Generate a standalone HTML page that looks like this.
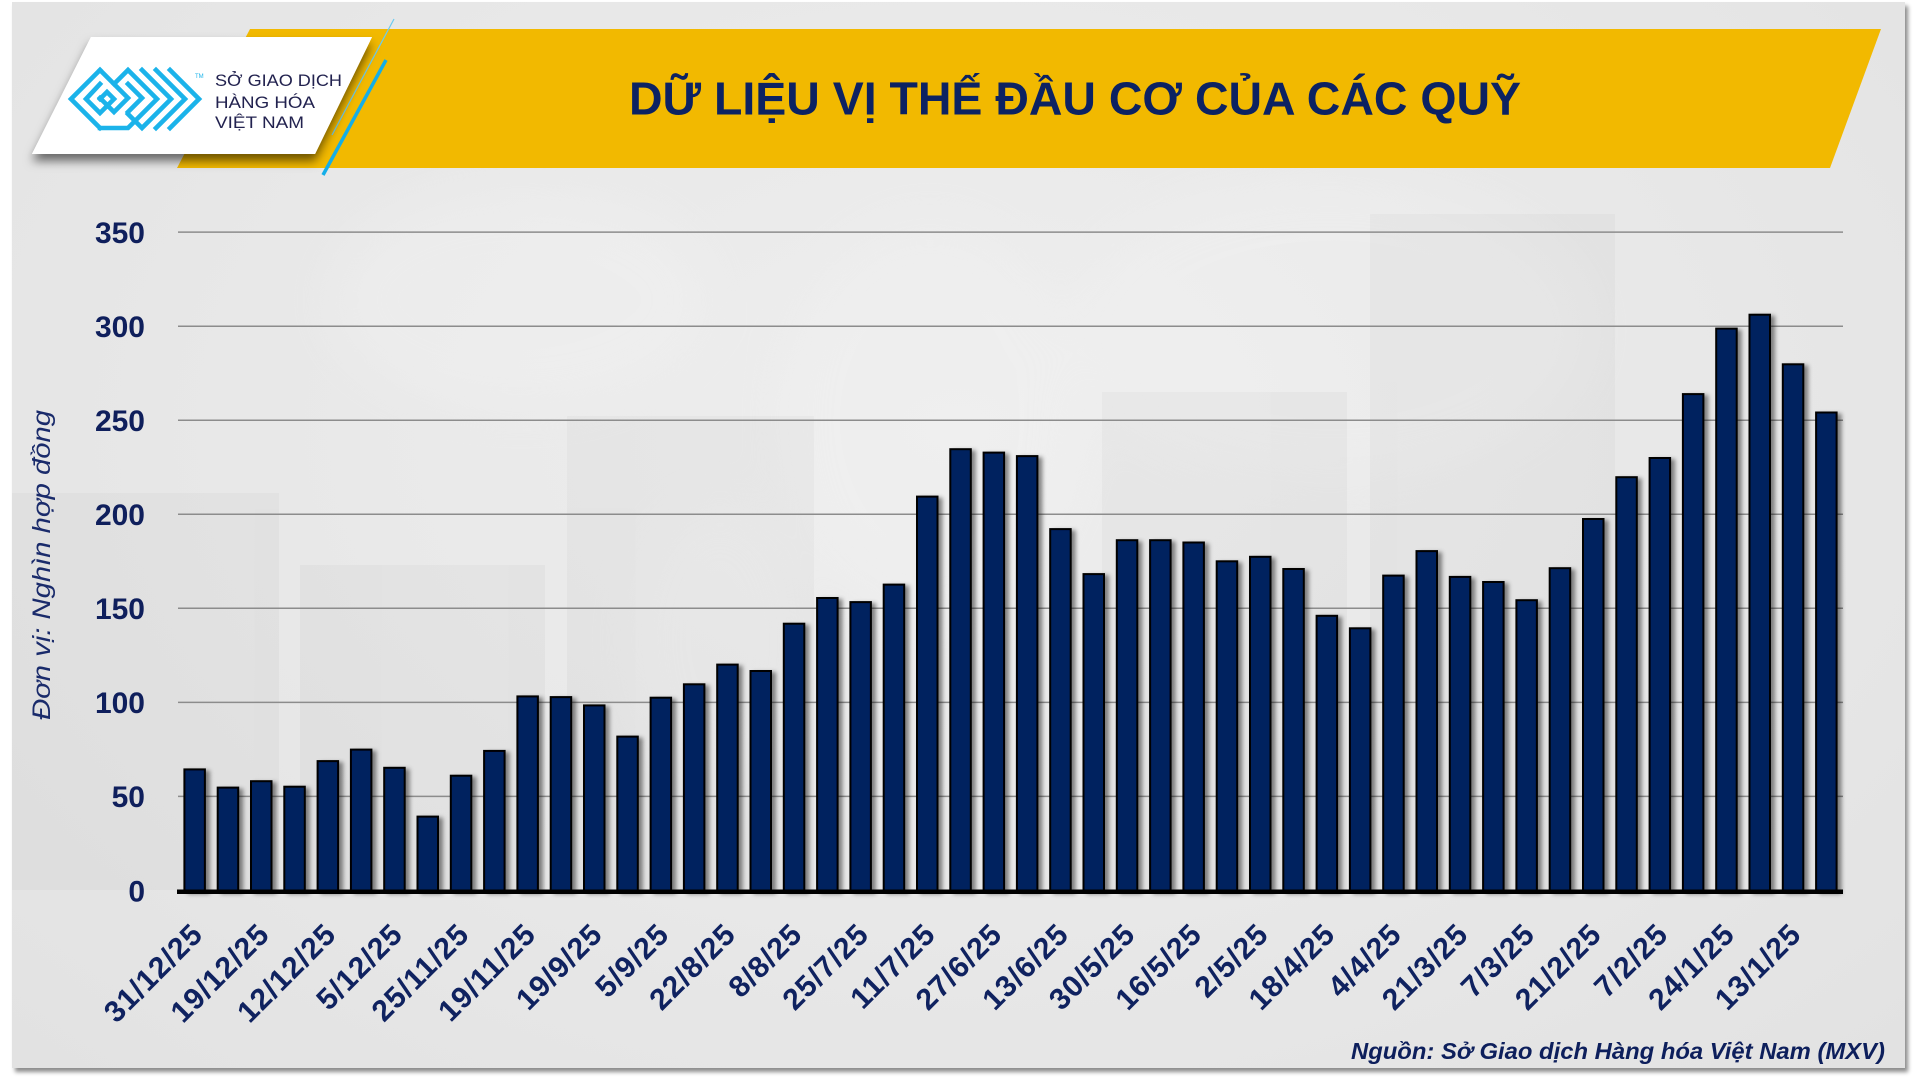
<!DOCTYPE html>
<html>
<head>
<meta charset="utf-8">
<style>
  html,body{margin:0;padding:0;background:#ffffff;}
  body{width:1920px;height:1080px;position:relative;overflow:hidden;font-family:"Liberation Sans",Arial,sans-serif;}
  .panel{position:absolute;left:12px;top:2px;width:1893px;height:1066px;
    background:radial-gradient(ellipse at 50% 40%, #eeeeee 0%, #e9e9e9 45%, #e2e2e2 100%);
    box-shadow:3px 4px 4px rgba(0,0,0,0.45);}
  svg{position:absolute;left:0;top:0;}
</style>
</head>
<body>
<div class="panel"></div>
<svg width="1920" height="1080" viewBox="0 0 1920 1080" xmlns="http://www.w3.org/2000/svg">
  <defs>
    <filter id="bsh" x="-30%" y="-10%" width="160%" height="120%">
      <feDropShadow dx="4" dy="2" stdDeviation="2" flood-color="#000" flood-opacity="0.45"/>
    </filter>
    <filter id="lsh" x="-10%" y="-20%" width="120%" height="160%">
      <feDropShadow dx="0" dy="7" stdDeviation="5" flood-color="#000" flood-opacity="0.55"/>
    </filter>
    <filter id="soft" x="-20%" y="-20%" width="140%" height="140%">
      <feGaussianBlur stdDeviation="25"/>
    </filter>
  </defs>

  <!-- faint background decoration -->
  <g opacity="0.3" filter="url(#soft)">
    <ellipse cx="520" cy="300" rx="190" ry="110" fill="#f4f4f4"/>
    <ellipse cx="930" cy="420" rx="150" ry="200" fill="#f3f3f3"/>
    <ellipse cx="1330" cy="330" rx="260" ry="150" fill="#f3f3f3"/>
    <ellipse cx="720" cy="640" rx="90" ry="140" fill="#f2f2f2"/>
  </g>
  <g fill="#000" opacity="0.025">
    <rect x="12" y="493" width="267" height="397"/>
    <rect x="300" y="565" width="245" height="325"/>
    <rect x="567" y="416" width="247" height="474"/>
    <rect x="1102" y="392" width="245" height="498"/>
    <rect x="1370" y="214" width="245" height="676"/>
  </g>

  <!-- yellow title banner -->
  <polygon points="250,29 1881,29 1830,168 177,168" fill="#F2B900"/>
  <text x="629" y="114.5" font-family="Liberation Sans, sans-serif" font-weight="bold" font-size="46" fill="#0C2262" textLength="892" lengthAdjust="spacingAndGlyphs">DỮ LIỆU VỊ THẾ ĐẦU CƠ CỦA CÁC QUỸ</text>

  <!-- blue accent lines -->
  <line x1="394" y1="19" x2="332" y2="135" stroke="#6CCBF0" stroke-width="1.2"/>
  <line x1="386" y1="60" x2="323" y2="175" stroke="#14AEE8" stroke-width="3.5"/>

  <!-- white logo parallelogram -->
  <polygon points="91,37 372,37 315,154 32,154" fill="#ffffff" filter="url(#lsh)"/>
  <polygon points="91,37 372,37 315,154 32,154" fill="#ffffff"/>

  <!-- logo icon -->
  <g fill="none" stroke="#1BB3EA" stroke-width="4.6" stroke-linejoin="miter" stroke-linecap="square">
    <polyline points="100,70 71,99 100,128"/>
    <polyline points="100,84 86,99 100,113 114,99 107,92 100,99"/>
    <polyline points="100,70 128,98 114,112 100,98"/>
    <polyline points="114,84 128,70 157,99 128,128 100,128"/>
    <polyline points="142,70 171,99 142,128 128,114"/>
    <polyline points="128,84 142,98 128,112"/>
    <polyline points="156,70 185,99 156,128"/>
    <polyline points="170,70 199,99 170,128"/>
  </g>
  <text x="195" y="78" font-family="Liberation Sans, sans-serif" font-size="6" fill="#1BB3EA">TM</text>

  <!-- logo text -->
  <g font-family="Liberation Sans, sans-serif" font-size="17" fill="#22224F">
    <text x="215" y="86" textLength="127" lengthAdjust="spacingAndGlyphs">SỞ GIAO DỊCH</text>
    <text x="215" y="108" textLength="100" lengthAdjust="spacingAndGlyphs">HÀNG HÓA</text>
    <text x="215" y="128" textLength="89" lengthAdjust="spacingAndGlyphs">VIỆT NAM</text>
  </g>

  <!-- gridlines -->
  <g stroke="#8C8C8C" stroke-width="1.5">
    <line x1="178" y1="232.1" x2="1843" y2="232.1"/>
    <line x1="178" y1="326.2" x2="1843" y2="326.2"/>
    <line x1="178" y1="420.2" x2="1843" y2="420.2"/>
    <line x1="178" y1="514.3" x2="1843" y2="514.3"/>
    <line x1="178" y1="608.3" x2="1843" y2="608.3"/>
    <line x1="178" y1="702.4" x2="1843" y2="702.4"/>
    <line x1="178" y1="796.4" x2="1843" y2="796.4"/>
  </g>

  <!-- y-axis labels -->
  <g font-family="Liberation Sans, sans-serif" font-weight="bold" font-size="30" fill="#0F1F5C" text-anchor="end">
    <text x="145" y="242.9">350</text>
    <text x="145" y="337.0">300</text>
    <text x="145" y="431.0">250</text>
    <text x="145" y="525.1">200</text>
    <text x="145" y="619.1">150</text>
    <text x="145" y="713.2">100</text>
    <text x="145" y="807.2">50</text>
    <text x="145" y="901.3">0</text>
  </g>

  <!-- y-axis title -->
  <text transform="translate(50,565) rotate(-90)" text-anchor="middle" font-family="Liberation Sans, sans-serif" font-style="italic" font-size="25" fill="#1A2B6B" textLength="310" lengthAdjust="spacingAndGlyphs">Đơn vị: Nghìn hợp đồng</text>

  <!-- bars -->
  <g fill="#00205F" stroke="#000" stroke-width="2" filter="url(#bsh)">
    <rect x="184.4" y="769.4" width="20.5" height="121.6"/>
    <rect x="217.7" y="787.6" width="20.5" height="103.4"/>
    <rect x="251.0" y="781.2" width="20.5" height="109.8"/>
    <rect x="284.3" y="786.7" width="20.5" height="104.3"/>
    <rect x="317.6" y="761.1" width="20.5" height="129.9"/>
    <rect x="350.9" y="749.6" width="20.5" height="141.4"/>
    <rect x="384.2" y="767.8" width="20.5" height="123.2"/>
    <rect x="417.5" y="816.6" width="20.5" height="74.4"/>
    <rect x="450.8" y="775.7" width="20.5" height="115.3"/>
    <rect x="484.1" y="750.9" width="20.5" height="140.1"/>
    <rect x="517.4" y="696.4" width="20.5" height="194.6"/>
    <rect x="550.7" y="697.1" width="20.5" height="193.9"/>
    <rect x="584.0" y="705.4" width="20.5" height="185.6"/>
    <rect x="617.3" y="736.6" width="20.5" height="154.4"/>
    <rect x="650.6" y="697.7" width="20.5" height="193.3"/>
    <rect x="683.9" y="684.3" width="20.5" height="206.7"/>
    <rect x="717.2" y="664.6" width="20.5" height="226.4"/>
    <rect x="750.5" y="671.0" width="20.5" height="220.0"/>
    <rect x="783.8" y="623.7" width="20.5" height="267.3"/>
    <rect x="817.1" y="598.0" width="20.5" height="293.0"/>
    <rect x="850.4" y="602.1" width="20.5" height="288.9"/>
    <rect x="883.7" y="584.6" width="20.5" height="306.4"/>
    <rect x="917.0" y="496.6" width="20.5" height="394.4"/>
    <rect x="950.3" y="449.2" width="20.5" height="441.8"/>
    <rect x="983.6" y="452.6" width="20.5" height="438.4"/>
    <rect x="1016.9" y="456.1" width="20.5" height="434.9"/>
    <rect x="1050.2" y="529.1" width="20.5" height="361.9"/>
    <rect x="1083.5" y="574.1" width="20.5" height="316.9"/>
    <rect x="1116.8" y="540.2" width="20.5" height="350.8"/>
    <rect x="1150.1" y="540.2" width="20.5" height="350.8"/>
    <rect x="1183.4" y="542.5" width="20.5" height="348.5"/>
    <rect x="1216.7" y="561.3" width="20.5" height="329.7"/>
    <rect x="1250.0" y="556.8" width="20.5" height="334.2"/>
    <rect x="1283.3" y="569.0" width="20.5" height="322.0"/>
    <rect x="1316.6" y="615.8" width="20.5" height="275.2"/>
    <rect x="1349.9" y="628.3" width="20.5" height="262.7"/>
    <rect x="1383.2" y="575.6" width="20.5" height="315.4"/>
    <rect x="1416.5" y="551.1" width="20.5" height="339.9"/>
    <rect x="1449.8" y="576.9" width="20.5" height="314.1"/>
    <rect x="1483.1" y="582.0" width="20.5" height="309.0"/>
    <rect x="1516.4" y="600.2" width="20.5" height="290.8"/>
    <rect x="1549.7" y="568.2" width="20.5" height="322.8"/>
    <rect x="1583.0" y="519.0" width="20.5" height="372.0"/>
    <rect x="1616.3" y="477.2" width="20.5" height="413.8"/>
    <rect x="1649.6" y="458.0" width="20.5" height="433.0"/>
    <rect x="1682.9" y="394.1" width="20.5" height="496.9"/>
    <rect x="1716.2" y="328.6" width="20.5" height="562.4"/>
    <rect x="1749.5" y="314.7" width="20.5" height="576.3"/>
    <rect x="1782.8" y="364.3" width="20.5" height="526.7"/>
    <rect x="1816.1" y="412.5" width="20.5" height="478.5"/>
  </g>

  <!-- baseline -->
  <rect x="177" y="889.5" width="1666" height="4.5" fill="#000"/>

  <!-- x-axis labels -->
  <g font-family="Liberation Sans, sans-serif" font-weight="bold" font-size="30" fill="#0F2260" text-anchor="end" letter-spacing="1">
    <text transform="translate(204.65,936) rotate(-45)">31/12/25</text>
    <text transform="translate(271.25,936) rotate(-45)">19/12/25</text>
    <text transform="translate(337.85,936) rotate(-45)">12/12/25</text>
    <text transform="translate(404.45,936) rotate(-45)">5/12/25</text>
    <text transform="translate(471.05,936) rotate(-45)">25/11/25</text>
    <text transform="translate(537.65,936) rotate(-45)">19/11/25</text>
    <text transform="translate(604.25,936) rotate(-45)">19/9/25</text>
    <text transform="translate(670.85,936) rotate(-45)">5/9/25</text>
    <text transform="translate(737.45,936) rotate(-45)">22/8/25</text>
    <text transform="translate(804.05,936) rotate(-45)">8/8/25</text>
    <text transform="translate(870.65,936) rotate(-45)">25/7/25</text>
    <text transform="translate(937.25,936) rotate(-45)">11/7/25</text>
    <text transform="translate(1003.85,936) rotate(-45)">27/6/25</text>
    <text transform="translate(1070.45,936) rotate(-45)">13/6/25</text>
    <text transform="translate(1137.05,936) rotate(-45)">30/5/25</text>
    <text transform="translate(1203.65,936) rotate(-45)">16/5/25</text>
    <text transform="translate(1270.25,936) rotate(-45)">2/5/25</text>
    <text transform="translate(1336.85,936) rotate(-45)">18/4/25</text>
    <text transform="translate(1403.45,936) rotate(-45)">4/4/25</text>
    <text transform="translate(1470.05,936) rotate(-45)">21/3/25</text>
    <text transform="translate(1536.65,936) rotate(-45)">7/3/25</text>
    <text transform="translate(1603.25,936) rotate(-45)">21/2/25</text>
    <text transform="translate(1669.85,936) rotate(-45)">7/2/25</text>
    <text transform="translate(1736.45,936) rotate(-45)">24/1/25</text>
    <text transform="translate(1803.05,936) rotate(-45)">13/1/25</text>
  </g>

  <!-- source -->
  <text x="1885" y="1059" text-anchor="end" font-family="Liberation Sans, sans-serif" font-weight="bold" font-style="italic" font-size="23" fill="#0D1F5C" textLength="534" lengthAdjust="spacingAndGlyphs">Nguồn: Sở Giao dịch Hàng hóa Việt Nam (MXV)</text>
</svg>
</body>
</html>
